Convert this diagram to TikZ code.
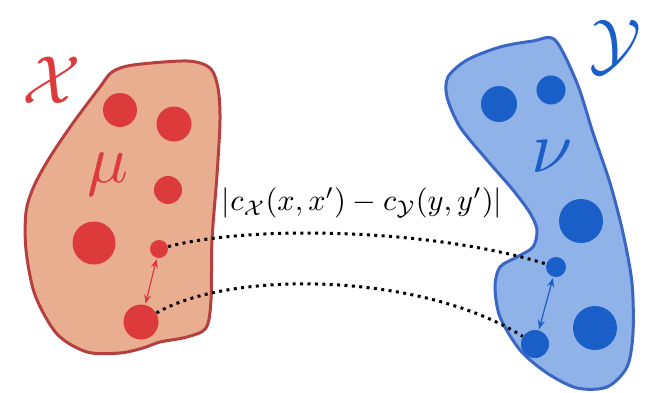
\documentclass[tikz,border=0pt]{standalone}
\usepackage{graphicx}
\usetikzlibrary{arrows.meta}

\definecolor{xfill}{RGB}{233,174,144}
\definecolor{xline}{RGB}{181,64,63}
\definecolor{xdot}{RGB}{221,59,59}
\definecolor{yfill}{RGB}{143,178,232}
\definecolor{yline}{RGB}{58,102,196}
\definecolor{ydot}{RGB}{26,95,200}

\begin{document}
\begin{tikzpicture}[x=0.5pt, y=-0.5pt,
    xdotnode/.style={circle, fill=xdot, inner sep=0pt, minimum size=#1},
    ydotnode/.style={circle, fill=ydot, inner sep=0pt, minimum size=#1},
    link/.style={line width=1.5pt, dash pattern=on 1.5pt off 2.2pt},
    dist/.style={{Stealth[length=4.5pt,width=3.5pt]}-{Stealth[length=4.5pt,width=3.5pt]}, line width=0.6pt, shorten <=0.5pt, shorten >=0.5pt},
    big/.style={inner sep=0pt}]
    \useasboundingbox (0,0) rectangle (665,392);

    % the two spaces
    \draw[xline, fill=xfill, line width=1.5pt] plot[smooth cycle, tension=0.5] coordinates {
        (112,72) (133,65) (187,61) (210,68) (218,88) (220,120) (217,175) (212,240) (211,300)
        (206,328) (187,337) (160,342) (143,348) (120,353) (87,352) (57,334) (35,295) (26,250)
        (26,212) (34,186) (50,157) (73,123) (100,87)};
    \draw[yline, fill=yfill, line width=1.5pt] plot[smooth cycle, tension=0.5] coordinates {
        (555,40) (577,83) (593,133) (610,183) (623,233) (632,283) (633,333) (627,367) (607,387)
        (577,388) (547,373) (520,350) (500,317) (495,287) (500,267) (517,257) (533,247) (537,230)
        (530,213) (513,190) (487,160) (460,127) (447,97) (448,77) (467,60) (500,47) (533,41)};

    \node[big, text=xdot] (setX) at (52,80) {\scalebox{3.4}{$\mathcal{X}$}};
    \node[big, text=ydot] (setY) at (615,47) {\scalebox{3.45}{$\mathcal{Y}$}};
    \node[big, text=xdot] (mu) at (108,174) {\scalebox{3.4}{$\mu$}};
    \node[big, text=ydot] (nu) at (552,157) {\scalebox{3.7}{$\nu$}};

    % points of mu
    \node[xdotnode=17pt] (x1) at (120,110) {};
    \node[xdotnode=17.5pt] (x2) at (174,124) {};
    \node[xdotnode=14pt] (x3) at (168,190) {};
    \node[xdotnode=21.5pt] (x4) at (94,243) {};
    \node[xdotnode=9pt] (x5) at (159,249) {};
    \node[xdotnode=17.5pt] (x6) at (141,322) {};

    % points of nu
    \node[ydotnode=18pt] (y1) at (499,104) {};
    \node[ydotnode=14.5pt] (y2) at (551,90) {};
    \node[ydotnode=22pt] (y3) at (581,221) {};
    \node[ydotnode=10pt] (y4) at (556,267) {};
    \node[ydotnode=22pt] (y5) at (595,328) {};
    \node[ydotnode=14pt] (y6) at (535,344) {};

    \node[big] (cost) at (362,203) {\scalebox{1.52}{$|c_{\mathcal{X}}(x,x')-c_{\mathcal{Y}}(y,y')|$}};

    \draw[link] (x5) .. controls (250,225) and (430,228) .. (y4);
    \draw[link] (x6) .. controls (230,270) and (420,272) .. (y6);
    \draw[dist, xdot] (x5) -- (x6);
    \draw[dist, ydot] (y4) -- (y6);
\end{tikzpicture}
\end{document}
